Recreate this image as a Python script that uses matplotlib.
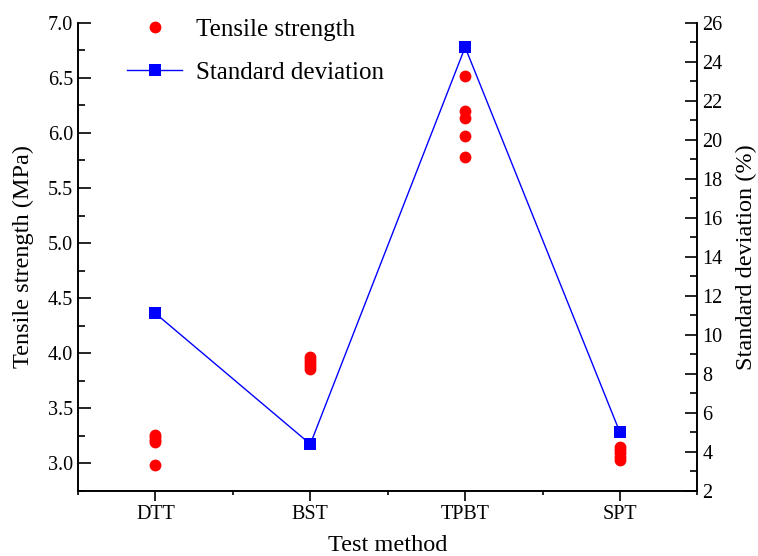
import numpy as np
import matplotlib.pyplot as plt
from matplotlib.ticker import MultipleLocator
from matplotlib.lines import Line2D

plt.rcParams['font.family'] = ['Liberation Serif', 'DejaVu Serif']

# Data
methods = ["DTT", "BST", "TPBT", "SPT"]
strength_dtt = [2.99, 3.19, 3.21, 3.24, 3.26]
strength_bst = [3.86, 3.88, 3.91, 3.94, 3.97]
strength_tpbt = [5.78, 5.97, 6.14, 6.20, 6.52]
strength_spt = [3.03, 3.06, 3.09, 3.12, 3.15]
std_dev = [11.1, 4.4, 24.75, 5.0]

fig = plt.figure(figsize=(7.58, 5.56), dpi=100)
ax = fig.add_axes([0.103, 0.117, 0.817, 0.842])
ax2 = ax.twinx()

groups = [strength_dtt, strength_bst, strength_tpbt, strength_spt]
for i, vals in enumerate(groups):
    ax.plot([i + 1] * len(vals), vals, 'o', color='red', markersize=8.5,
            markeredgewidth=0, zorder=3)

x = np.arange(1, len(methods) + 1)
ax2.plot(x, std_dev, '-s', color='blue', linewidth=1.0, markersize=8,
         markeredgewidth=0)

ax.set_xlim(0.5, 4.5)
ax.set_ylim(2.75, 7.0)
ax2.set_ylim(2, 26)

ax.set_xticks(x)
ax.set_xticklabels(methods)
ax.xaxis.set_minor_locator(MultipleLocator(0.5))
ax.yaxis.set_major_locator(MultipleLocator(0.5))
ax.yaxis.set_minor_locator(MultipleLocator(0.25))
ax.yaxis.set_major_formatter(plt.FormatStrFormatter('%.1f'))
ax2.yaxis.set_major_locator(MultipleLocator(2))
ax2.yaxis.set_minor_locator(MultipleLocator(1))

for a in (ax, ax2):
    a.spines['top'].set_visible(False)
    for s in a.spines.values():
        s.set_linewidth(1.2)

ax.tick_params(axis='y', which='major', direction='in', length=9, width=1.2,
               labelsize=14.5)
ax.tick_params(axis='y', which='minor', direction='in', length=5, width=1.2)
ax.tick_params(axis='x', which='major', direction='out', length=7, width=1.2,
               labelsize=14.5, pad=3)
ax.tick_params(axis='x', which='minor', direction='out', length=3, width=1.2)
ax2.tick_params(axis='y', which='major', direction='in', length=9, width=1.2,
                labelsize=14.5)
ax2.tick_params(axis='y', which='minor', direction='in', length=5, width=1.2)

ax.set_xlabel("Test method", fontsize=17.5, labelpad=8)
ax.set_ylabel("Tensile strength (MPa)", fontsize=17.5, labelpad=10)
ax2.set_ylabel("Standard deviation (%)", fontsize=17.5, labelpad=10)

handles = [
    Line2D([], [], linestyle='none', marker='o', color='red', markersize=8.5,
           markeredgewidth=0),
    Line2D([], [], linestyle='-', marker='s', color='blue', linewidth=1.0,
           markersize=8, markeredgewidth=0),
]
ax.legend(handles, ["Tensile strength", "Standard deviation"],
          loc='upper left', bbox_to_anchor=(0.043, 1.058), frameon=False,
          fontsize=18, handlelength=2.2, handletextpad=0.55,
          labelspacing=0.82)

fig.savefig("out.png", dpi=100)
